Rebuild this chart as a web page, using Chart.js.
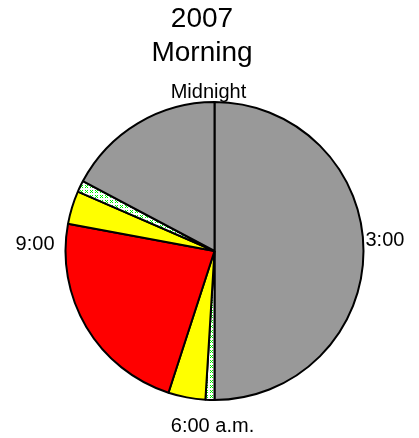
<!DOCTYPE html>
<html>
<head>
<meta charset="utf-8">
<script src="https://cdn.jsdelivr.net/npm/chart.js@4/dist/chart.umd.min.js"></script>
<style>
  html, body { margin: 0; padding: 0; background: #fff; }
  #wrap { width: 419px; height: 438px; }
</style>
</head>
<body>
<div id="wrap"><canvas id="clockChart"></canvas></div>
<script>
// minutes of the morning, clockwise from midnight
const segments = ['Asleep', 'Stirring', 'Dozing', 'Awake', 'Dozing', 'Stirring', 'Asleep'];
const minutes = [360, 7, 29, 165, 26, 9, 124];
const segmentKinds = ['gray', 'hatch', 'yellow', 'red', 'yellow', 'hatch', 'gray'];
const titleLines = ['2007', 'Morning'];
const clockLabels = ['Midnight', '3:00', '6:00 a.m.', '9:00'];

function makeHatch() {
  const c = document.createElement('canvas');
  c.width = 5; c.height = 5;
  const g = c.getContext('2d');
  g.fillStyle = '#ffffff';
  g.fillRect(0, 0, 5, 5);
  g.fillStyle = '#00ee00';
  [[0,0],[2,0],[1,1],[0,2],[2,2]].forEach(p => g.fillRect(p[0], p[1], 1, 1));
  return g.createPattern(c, 'repeat');
}

const palette = { gray: '#999999', yellow: '#ffff00', red: '#ff0000', hatch: makeHatch() };

const clockText = {
  id: 'clockText',
  afterDraw(chart) {
    const ctx = chart.ctx;
    const arc = chart.getDatasetMeta(0).data[0];
    const cx = arc.x, cy = arc.y, r = arc.outerRadius + 1;
    ctx.save();
    ctx.fillStyle = '#000';
    ctx.textBaseline = 'alphabetic';
    ctx.font = '28px "Liberation Sans", Arial, sans-serif';
    ctx.textAlign = 'center';
    ctx.fillText(titleLines[0], 202, 27);
    ctx.fillText(titleLines[1], 202, 61);
    ctx.font = '20px "Liberation Sans", Arial, sans-serif';
    ctx.fillText(clockLabels[0], cx - 6, cy - r - 3);
    ctx.fillText(clockLabels[2], cx - 2, cy + r + 31);
    ctx.textAlign = 'left';
    ctx.fillText(clockLabels[1], cx + r + 1, cy - 5);
    ctx.textAlign = 'right';
    ctx.fillText(clockLabels[3], cx - r - 10, cy - 1);
    ctx.restore();
  }
};

new Chart(document.getElementById('clockChart'), {
  type: 'pie',
  data: {
    labels: segments,
    datasets: [{
      data: minutes,
      backgroundColor: segmentKinds.map(k => palette[k]),
      borderColor: '#000000',
      borderWidth: 2
    }]
  },
  options: {
    responsive: true,
    maintainAspectRatio: false,
    animation: false,
    layout: { padding: { left: 64, right: 54, top: 101, bottom: 37 } },
    plugins: {
      legend: { display: false },
      title: { display: false },
      tooltip: { enabled: false }
    }
  },
  plugins: [clockText]
});
</script>
</body>
</html>
